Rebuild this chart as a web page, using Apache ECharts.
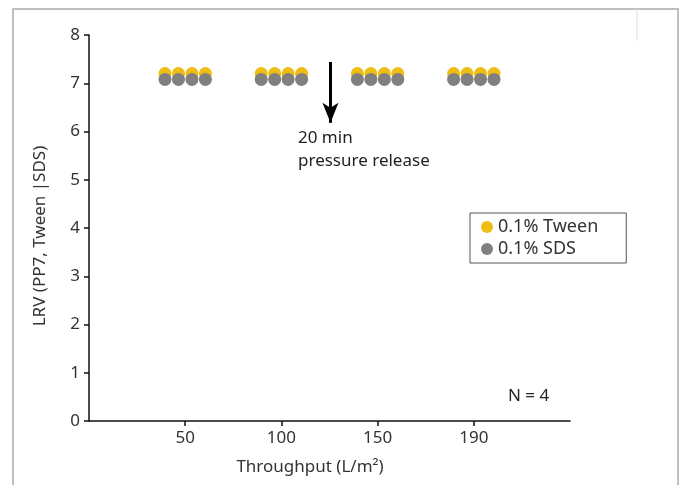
<!DOCTYPE html>
<html>
<head>
<meta charset="utf-8">
<script src="https://cdn.jsdelivr.net/npm/echarts@6/dist/echarts.min.js"></script>
<style>
  html, body { margin: 0; padding: 0; background: #fff; }
  #main { width: 684px; height: 485px; }
</style>
</head>
<body>
<div id="main"></div>
<script>
// data
var xLabels = ['50', '100', '150', '190'];
var xTicks = [1, 2, 3, 4];
var tweenX = [0.79, 0.93, 1.07, 1.21, 1.79, 1.93, 2.07, 2.21, 2.79, 2.93, 3.07, 3.21, 3.79, 3.93, 4.07, 4.21];
var tweenY = [7.2, 7.2, 7.2, 7.2, 7.2, 7.2, 7.2, 7.2, 7.2, 7.2, 7.2, 7.2, 7.2, 7.2, 7.2, 7.2];
var sdsX = [0.79, 0.93, 1.07, 1.21, 1.79, 1.93, 2.07, 2.21, 2.79, 2.93, 3.07, 3.21, 3.79, 3.93, 4.07, 4.21];
var sdsY = [7.08, 7.08, 7.08, 7.08, 7.08, 7.08, 7.08, 7.08, 7.08, 7.08, 7.08, 7.08, 7.08, 7.08, 7.08, 7.08];
var releaseX = 2.51;

function pairs(xs, ys) {
    return xs.map(function (x, i) { return [x, ys[i]]; });
}

var myChart = echarts.init(document.getElementById('main'));
var font = 'Noto Sans';

option = {
    animation: false,
    textStyle: { fontFamily: font },
    grid: { left: 89, top: 35, right: 114, bottom: 64 },
    xAxis: {
        type: 'value',
        min: 0,
        max: 5,
        interval: 1,
        name: 'Throughput (L/m²)',
        nameLocation: 'middle',
        nameGap: 38,
        nameTextStyle: { fontSize: 17, color: '#333', padding: [0, 39, 0, 0] },
        splitLine: { show: false },
        axisLine: { lineStyle: { color: '#111', width: 1.5 } },
        axisTick: { customValues: xTicks, length: 5, lineStyle: { color: '#111', width: 1.5 } },
        axisLabel: {
            customValues: xTicks,
            fontSize: 17,
            color: '#333',
            margin: 9,
            formatter: function (v) { return xLabels[xTicks.indexOf(v)]; }
        }
    },
    yAxis: {
        type: 'value',
        min: 0,
        max: 8,
        interval: 1,
        name: 'LRV (PP7, Tween |SDS)',
        nameLocation: 'middle',
        nameGap: 40,
        nameTextStyle: { fontSize: 17, color: '#333', padding: [0, 16, 0, 0] },
        splitLine: { show: false },
        axisLine: { show: true, lineStyle: { color: '#111', width: 1.5 } },
        axisTick: { show: true, length: 5, lineStyle: { color: '#111', width: 1.5 } },
        axisLabel: { fontSize: 17, color: '#333', margin: 9 }
    },
    legend: {
        orient: 'vertical',
        left: 470,
        top: 213,
        icon: 'circle',
        itemWidth: 12,
        itemHeight: 12,
        itemGap: 4,
        padding: [5, 28, 5, 11],
        borderColor: '#555',
        borderWidth: 1,
        textStyle: { fontSize: 18, color: '#333', fontFamily: font },
        data: ['0.1% Tween', '0.1% SDS']
    },
    graphic: [
        { type: 'rect', shape: { x: 13, y: 9, width: 665, height: 490 }, style: { fill: 'none', stroke: '#aaa', lineWidth: 1.5 }, silent: true },
        { type: 'line', shape: { x1: 637, y1: 9, x2: 637, y2: 41 }, style: { stroke: '#ddd', lineWidth: 1 }, silent: true },
        { type: 'text', left: 298, top: 127, style: { text: '20 min\npressure release', font: '17px "Noto Sans"', fill: '#222', lineHeight: 23 } },
        { type: 'text', left: 508, top: 388, style: { text: 'N = 4', font: '17px "Noto Sans"', fill: '#222' } }
    ],
    series: [{
        name: '0.1% Tween',
        type: 'scatter',
        symbolSize: 13,
        itemStyle: { color: '#EFBE12', opacity: 1 },
        data: pairs(tweenX, tweenY),
        markLine: {
            silent: true,
            symbol: ['none', 'arrow'],
            symbolSize: [12, 20],
            label: { show: false },
            lineStyle: { color: '#000', width: 3, type: 'solid' },
            data: [[{ coord: [releaseX, 7.44] }, { coord: [releaseX, 6.18] }]]
        }
    }, {
        name: '0.1% SDS',
        type: 'scatter',
        symbolSize: 13,
        itemStyle: { color: '#808080', opacity: 1 },
        data: pairs(sdsX, sdsY)
    }]
};

myChart.setOption(option);
</script>
</body>
</html>
